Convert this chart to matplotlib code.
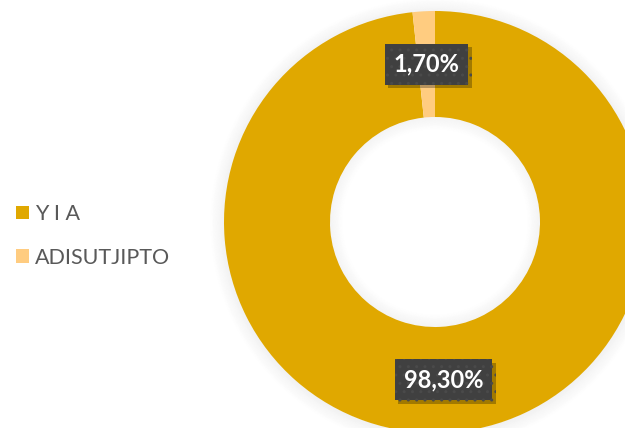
import matplotlib
matplotlib.use('Agg')
import numpy as np
from matplotlib import pyplot as plt, patches
from matplotlib import patheffects

# donnees du graphique
labels = ['Y I A', 'ADISUTJIPTO']
valeurs = [98.30, 1.70]
couleurs = ['#E0A800', '#FFCC80']

plt.rcParams['font.family'] = ['Lato', 'DejaVu Sans']

W, H = 625, 428
fig = plt.figure(figsize=(W / 100, H / 100), dpi=100)
fig.patch.set_facecolor('white')

# position du donut en pixels
cx, cy, R = 435, 222, 211
L = 1.15
taille = 2 * R * L
ax = fig.add_axes([(cx - taille / 2) / W, ((H - cy) - taille / 2) / H, taille / W, taille / H])
ax.axis('off')

r_in = 105 / 211
larg = 1 - r_in

# ombre douce autour
for k in range(12):
    ax.add_patch(patches.Wedge((0, -0.005), 1 + k * 0.006, 0, 360, width=0.006,
                               facecolor='black', alpha=0.055 * (1 - k / 12), lw=0))

wedges, _ = ax.pie(valeurs, colors=couleurs, startangle=90, counterclock=False,
                   radius=1, wedgeprops=dict(width=larg, linewidth=0))

# ombre interieure du trou
for k in range(10):
    ax.add_patch(patches.Wedge((0, 0), r_in - k * 0.006, 0, 360, width=0.006,
                               facecolor='black', alpha=0.045 * (1 - k / 10), lw=0, zorder=3))

ax.set_xlim(-L, L)
ax.set_ylim(-L, L)

# etiquettes
rmid = (1 + r_in) / 2
for w, v in zip(wedges, valeurs):
    ang = np.deg2rad((w.theta1 + w.theta2) / 2)
    t = ax.text(rmid * np.cos(ang), rmid * np.sin(ang), f'{v:.2f}%'.replace('.', ','),
                ha='center', va='center', color='white', fontsize=17, fontweight='bold',
                zorder=5,
                bbox=dict(boxstyle='square,pad=0.38', facecolor='#404040', edgecolor='#4a4a4a',
                          hatch='..', linewidth=0))
    t.get_bbox_patch().set_path_effects([
        patheffects.withSimplePatchShadow(offset=(2.5, -2.5), shadow_rgbFace='black', alpha=0.28),
        patheffects.Normal()])

fig.legend(wedges, labels, loc='center left', bbox_to_anchor=(16 / W, 1 - 236 / H),
           frameon=False, fontsize=15.5, handlelength=0.6, handleheight=0.6,
           handletextpad=0.3, labelspacing=1.1, labelcolor='#595959',
           borderpad=0, borderaxespad=0)

fig.savefig('out.png', dpi=100)
